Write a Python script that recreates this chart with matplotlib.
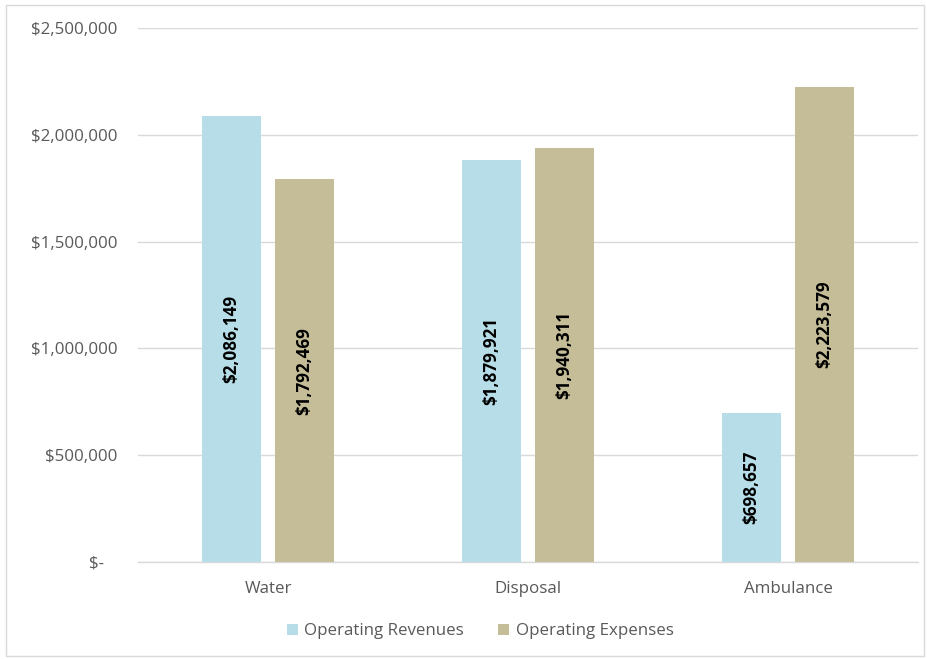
import numpy as np
import matplotlib.pyplot as plt
from matplotlib.patches import Rectangle
from matplotlib.ticker import FuncFormatter

plt.rcParams['font.family'] = ['Open Sans', 'DejaVu Sans']

categories = ['Water', 'Disposal', 'Ambulance']
revenues = [2086149, 1879921, 698657]
expenses = [1792469, 1940311, 2223579]
series_names = ['Operating Revenues', 'Operating Expenses']

rev_color = '#B7DDE8'
exp_color = '#C4BD97'
text_color = '#595959'
grid_color = '#D9D9D9'

fig = plt.figure(figsize=(9.27, 6.59), dpi=100)
ax = fig.add_axes([0.1489, 0.1472, 0.8414, 0.8103])

x = np.arange(len(categories))
w = 0.227
off = 0.14

b1 = ax.bar(x - off, revenues, w, color=rev_color, label=series_names[0], zorder=3)
b2 = ax.bar(x + off, expenses, w, color=exp_color, label=series_names[1], zorder=3)

# data labels, centred in each bar
for bars, vals in [(b1, revenues), (b2, expenses)]:
    for rect, v in zip(bars, vals):
        ax.text(rect.get_x() + rect.get_width() / 2, v / 2, f'${v:,.0f}',
                rotation=90, ha='center', va='center', fontsize=12.3,
                fontweight='bold', color='black', zorder=4)

ax.set_xlim(-0.5, 2.5)
ax.set_ylim(0, 2500000)
ax.set_yticks(np.arange(0, 2500001, 500000))

def money(v, pos):
    if v == 0:
        return '$-   '
    return f'${v:,.0f}'

ax.yaxis.set_major_formatter(FuncFormatter(money))
ax.set_xticks(x)
ax.set_xticklabels(categories)

ax.grid(axis='y', color=grid_color, linewidth=1, zorder=0)
for s in ['top', 'right', 'left']:
    ax.spines[s].set_visible(False)
ax.spines['bottom'].set_color(grid_color)
ax.spines['bottom'].set_linewidth(1)
ax.tick_params(axis='both', length=0, labelsize=12.2, colors=text_color)
ax.tick_params(axis='y', pad=15)
ax.tick_params(axis='x', pad=14)

leg = fig.legend(handles=[b1, b2], loc='center', bbox_to_anchor=(0.518, 0.042),
                 ncol=2, frameon=False, fontsize=12.2, handlelength=0.65,
                 handleheight=0.65, handletextpad=0.4, columnspacing=2.0)
for t in leg.get_texts():
    t.set_color(text_color)

# chart border
fig.patches.append(Rectangle((0.007, 0.004), 0.99, 0.989, transform=fig.transFigure,
                             fill=False, edgecolor='#D9D9D9', linewidth=1))

fig.savefig('out.png', dpi=100)
